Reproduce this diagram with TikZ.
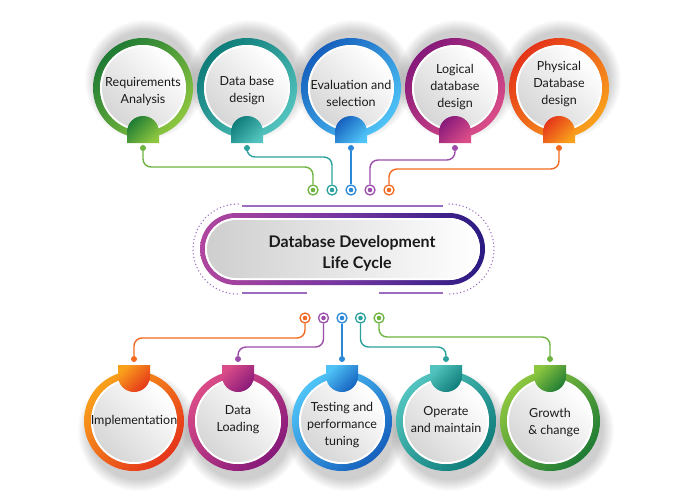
\documentclass[tikz,border=0pt]{standalone}
\usepackage{fontspec}
\setmainfont{Lato}
\usetikzlibrary{calc}
\definecolor{gD}{HTML}{1E7B34}\definecolor{gL}{HTML}{8DC63F}
\definecolor{tD}{HTML}{0E7C78}\definecolor{tL}{HTML}{52C3BE}
\definecolor{bD}{HTML}{1560BD}\definecolor{bL}{HTML}{4FC3F7}
\definecolor{pD}{HTML}{86197A}\definecolor{pL}{HTML}{DA4C88}
\definecolor{oD}{HTML}{E5341A}\definecolor{oL}{HTML}{F9A11B}
\definecolor{gC}{HTML}{6DB33F}\definecolor{tC}{HTML}{2AA19C}
\definecolor{bC}{HTML}{2B88D8}\definecolor{pC}{HTML}{9C4DAB}
\definecolor{oC}{HTML}{F26A21}
\definecolor{pillL}{HTML}{B0469F}\definecolor{pillM}{HTML}{7436A0}\definecolor{pillR}{HTML}{2A1A82}
\definecolor{deco}{HTML}{9A6CC0}
\definecolor{txt}{HTML}{1A1A1A}
\tikzset{
  dotnode/.style={circle, fill=#1, inner sep=0pt, minimum size=6pt},
  ringdot/.style={circle, draw=#1, line width=1.3pt, fill=white, inner sep=0pt, minimum size=10pt,
    path picture={\fill[#1] (path picture bounding box.center) circle (2.3);}},
  conn/.style={draw=#1, line width=1.4pt, rounded corners=8pt},
  label/.style={align=center, text=txt, font=\fontsize{12.5}{17}\selectfont},
  decoline/.style={draw=deco, line width=1.3pt},
  dotline/.style={draw=deco, line width=1.5pt, line cap=round, dash pattern=on 0pt off 3.6pt},
}
\begin{document}
\begin{tikzpicture}[x=1pt,y=-1pt]
\useasboundingbox (0,0) rectangle (700,500);
\fill[white] (0,0) rectangle (700,500);
% shadows
\foreach \x in {143,247,351,455,559}{
  \foreach \r in {49,...,60} \fill[black,opacity=0.016] (\x+2,80) circle (\r);
}
\foreach \x in {134,238,342,446,550}{
  \foreach \r in {49,...,60} \fill[black,opacity=0.016] (\x+4,431) circle (\r);
}
% top circles
\foreach \x/\ty/\ca/\cb/\cc/\txt [count=\i] in {
  143/92/gD/gL/gC/{Requirements\\Analysis},
  247/91/tD/tL/tC/{Data base\\design},
  351/93/bD/bL/bC/{Evaluation and\\selection},
  455/87/pD/pL/pC/{Logical\\database\\design},
  559/84/oD/oL/oC/{Physical\\Database\\design}}{
  \shade[top color=\ca, bottom color=\cb, shading angle=45, even odd rule]
    (\x,88) circle (50) (\x,88) circle (43);
  \fill[white] (\x,88) circle (43);
  \shade[top color=white, bottom color=gray!32, shading angle=-45] (\x,88) circle (41);
  \shade[top color=\ca, bottom color=\cb, shading angle=45]
    (\x-16,143) -- (\x-16,132) arc (180:360:16) -- (\x+16,143) -- cycle;
  \node[label] (t\i) at (\x,\ty) {\txt};
  \node[dotnode=\cc] (td\i) at (\x,148) {};
  \node[ringdot=\cc] (tr\i) at (313+19*\i-19,190) {};
}
% bottom circles
\foreach \x/\ty/\ca/\cb/\cc/\txt [count=\i] in {
  134/421/oL/oD/oC/{Implementation},
  238/420/pL/pD/pC/{Data\\Loading},
  342/425/bL/bD/bC/{Testing and\\performance\\tuning},
  446/420/tL/tD/tC/{Operate\\and maintain},
  550/423/gL/gD/gC/{Growth\\\hspace*{8pt}\& change}}{
  \shade[top color=\ca, bottom color=\cb, shading angle=45, even odd rule]
    (\x,421) circle (50) (\x,421) circle (43);
  \fill[white] (\x,421) circle (43);
  \shade[top color=white, bottom color=gray!32, shading angle=-45] (\x,421) circle (41);
  \shade[top color=\ca, bottom color=\cb, shading angle=45]
    (\x-16,365) -- (\x-16,376) arc (180:0:16) -- (\x+16,365) -- cycle;
  \node[label] (b\i) at (\x,\ty) {\txt};
  \node[dotnode=\cc] (bd\i) at (\x,359) {};
  \node[ringdot=\cc] (br\i) at (305+18.5*\i-18.5,318) {};
}
% central pill
\shade[left color=pillL, right color=pillR, middle color=pillM, even odd rule]
  [rounded corners=36pt] (200,213) rectangle (485,285)
  [rounded corners=31pt] (205,218) rectangle (480,280);
\fill[white, rounded corners=31pt] (205,218) rectangle (480,280);
\shade[left color=gray!38, right color=white, rounded corners=29pt] (207,220) rectangle (478,278);
\node[align=center, text=txt, font=\fontsize{16}{21}\selectfont\bfseries] (title) at (352,253.5)
  {Database Development\\\hspace*{10pt}Life Cycle};
% decorations around pill
\draw[dotline] (238,204) arc (270:90:45);
\draw[dotline] (449,204) arc (-90:90:45);
\draw[decoline] (242,206) -- (443,206);
\draw[decoline] (242,293) -- (307,293);
\draw[decoline] (379,293) -- (443,293);
% top connectors
\coordinate (h1) at (0,167);
\coordinate (h2) at (0,157);
\coordinate (h4) at (0,160);
\coordinate (h5) at (0,169);
\draw[conn=gC] (td1) -- (td1 |- h1) -- (tr1 |- h1) -- (tr1);
\draw[conn=tC] (td2) -- (td2 |- h2) -- (tr2 |- h2) -- (tr2);
\draw[conn=bC] (td3) -- (tr3);
\draw[conn=pC] (td4) -- (td4 |- h4) -- (tr4 |- h4) -- (tr4);
\draw[conn=oC] (td5) -- (td5 |- h5) -- (tr5 |- h5) -- (tr5);
% bottom connectors
\coordinate (k1) at (0,338);
\coordinate (k2) at (0,347);
\coordinate (k4) at (0,347);
\coordinate (k5) at (0,337);
\draw[conn=oC] (br1) -- (br1 |- k1) -- (bd1 |- k1) -- (bd1);
\draw[conn=pC] (br2) -- (br2 |- k2) -- (bd2 |- k2) -- (bd2);
\draw[conn=bC] (br3) -- (bd3);
\draw[conn=tC] (br4) -- (br4 |- k4) -- (bd4 |- k4) -- (bd4);
\draw[conn=gC] (br5) -- (br5 |- k5) -- (bd5 |- k5) -- (bd5);
\end{tikzpicture}
\end{document}
